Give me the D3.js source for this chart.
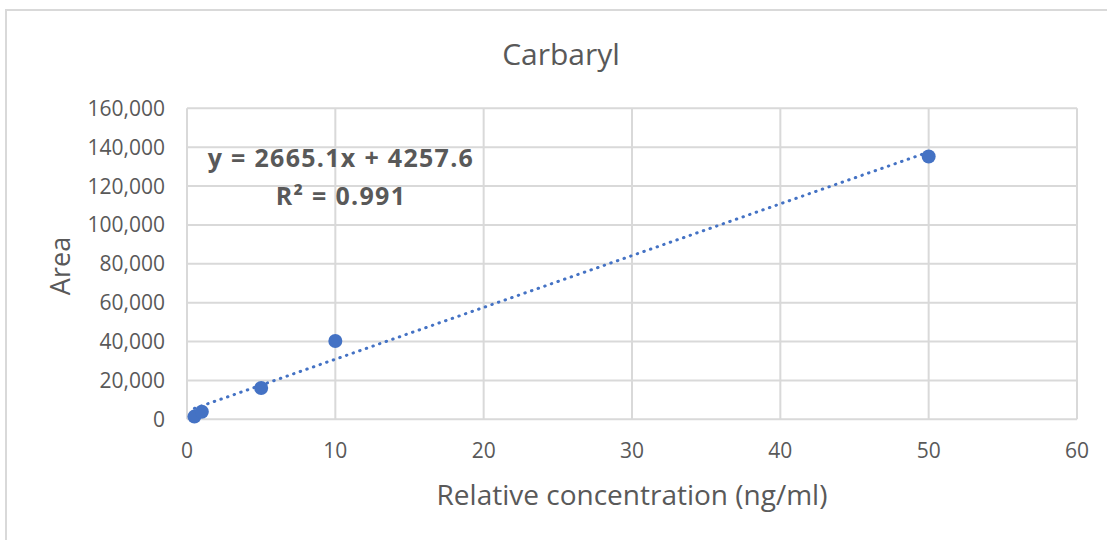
<!DOCTYPE html>
<html>
<head>
<meta charset="utf-8">
<script src="https://cdn.jsdelivr.net/npm/d3@7"></script>
<style>
  body { margin: 0; background: #fff; }
  svg text { font-family: "Open Sans", sans-serif; fill: #595959; }
</style>
</head>
<body>
<svg id="chart" width="1107" height="540"></svg>
<script>
// DATA
var concentration = [0.5, 1, 5, 10, 50];
var area = [1400, 3900, 16100, 40300, 135200];
var xTicks = [0, 10, 20, 30, 40, 50, 60];
var yTicks = [0, 20000, 40000, 60000, 80000, 100000, 120000, 140000, 160000];
var slope = 2665.1;
var intercept = 4257.6;
var rSquared = 0.991;

var blue = "#4472C4";
var grid = "#d9d9d9";

const svg = d3.select("#chart");

// frame of the chart object
svg.append("rect")
    .attr("x", 6)
    .attr("y", 10)
    .attr("width", 1120)
    .attr("height", 560)
    .attr("fill", "none")
    .attr("stroke", grid)
    .attr("stroke-width", 2);

var margin = { left: 187, right: 1077, top: 108.3, bottom: 419.3 };

// SCALES
var x = d3.scaleLinear()
    .domain([0, 60])
    .range([margin.left, margin.right]);

var y = d3.scaleLinear()
    .domain([0, 160000])
    .range([margin.bottom, margin.top]);

// GRID
svg.append("g")
    .selectAll("line")
    .data(yTicks)
    .join("line")
    .attr("x1", margin.left)
    .attr("x2", margin.right)
    .attr("y1", d => y(d))
    .attr("y2", d => y(d))
    .attr("stroke", grid)
    .attr("stroke-width", 2);

svg.append("g")
    .selectAll("line")
    .data(xTicks)
    .join("line")
    .attr("x1", d => x(d))
    .attr("x2", d => x(d))
    .attr("y1", margin.top)
    .attr("y2", margin.bottom)
    .attr("stroke", grid)
    .attr("stroke-width", 2);

// TICK LABELS
var fmt = d3.format(",");

svg.append("g")
    .selectAll("text")
    .data(yTicks)
    .join("text")
    .attr("x", 165)
    .attr("y", d => y(d) + 7.5)
    .attr("text-anchor", "end")
    .attr("font-size", 21)
    .text(d => fmt(d));

svg.append("g")
    .selectAll("text")
    .data(xTicks)
    .join("text")
    .attr("x", d => x(d))
    .attr("y", 458)
    .attr("text-anchor", "middle")
    .attr("font-size", 21)
    .text(d => d);

// TITLES
svg.append("text")
    .attr("x", 561)
    .attr("y", 65)
    .attr("text-anchor", "middle")
    .attr("font-size", 30)
    .text("Carbaryl");

svg.append("text")
    .attr("x", 632)
    .attr("y", 505)
    .attr("text-anchor", "middle")
    .attr("font-size", 28)
    .text("Relative concentration (ng/ml)");

svg.append("text")
    .attr("transform", "translate(70,266) rotate(-90)")
    .attr("text-anchor", "middle")
    .attr("font-size", 27)
    .text("Area");

// TRENDLINE
var xr = d3.extent(concentration);
svg.append("line")
    .attr("x1", x(xr[0]))
    .attr("y1", y(slope * xr[0] + intercept))
    .attr("x2", x(xr[1]))
    .attr("y2", y(slope * xr[1] + intercept))
    .attr("stroke", blue)
    .attr("stroke-width", 3)
    .attr("stroke-linecap", "round")
    .attr("stroke-dasharray", "0.5 6.5");

// POINTS
svg.append("g")
    .selectAll("circle")
    .data(concentration)
    .join("circle")
    .attr("cx", d => x(d))
    .attr("cy", (d, i) => y(area[i]))
    .attr("r", 7)
    .attr("fill", blue);

// EQUATION LABEL
var eq = svg.append("text")
    .attr("text-anchor", "middle")
    .attr("font-size", 25)
    .attr("font-weight", "bold")
    .attr("letter-spacing", 1.3);

eq.append("tspan")
    .attr("x", 341)
    .attr("y", 167)
    .text("y = " + slope + "x + " + intercept);

eq.append("tspan")
    .attr("x", 341)
    .attr("y", 205)
    .text("R² = " + rSquared);
</script>
</body>
</html>
